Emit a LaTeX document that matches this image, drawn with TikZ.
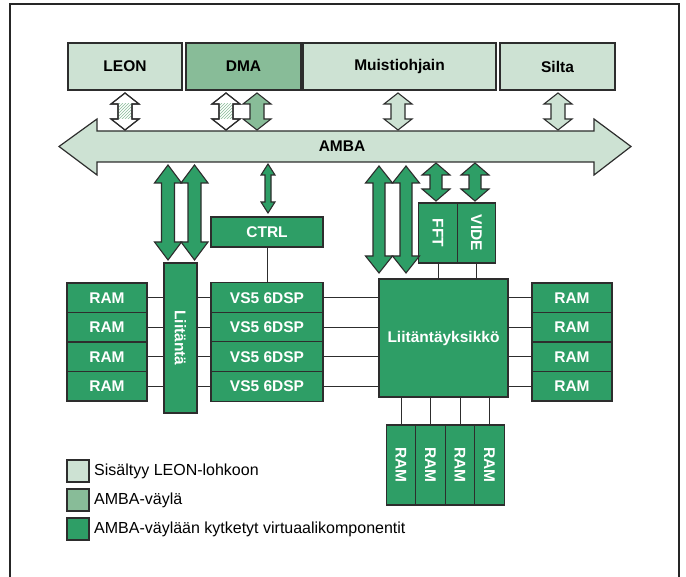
\documentclass[tikz,border=0pt]{standalone}
\usepackage{fontspec}
\setmainfont{Liberation Sans}
\usetikzlibrary{patterns}
\definecolor{leongreen}{RGB}{205,226,211}
\definecolor{ambagreen}{RGB}{136,188,152}
\definecolor{vcgreen}{RGB}{46,158,102}
\definecolor{edge}{RGB}{45,45,45}
% double headed bus arrow: style, x, top, bottom, half shaft, half head, head length
\newcommand\busarrow[7]{%
  \draw[draw=edge, line width=1.1pt, #1] (#2-#5,#3+#7) -- (#2-#6,#3+#7) -- (#2,#3) -- (#2+#6,#3+#7) -- (#2+#5,#3+#7)
    -- (#2+#5,#4-#7) -- (#2+#6,#4-#7) -- (#2,#4) -- (#2-#6,#4-#7) -- (#2-#5,#4-#7) -- cycle;}
\newcommand\hatcharrow[2]{%
  \busarrow{fill=white}{#1}{#2}{130}{7}{14}{11}
  \fill[pattern=north east lines, pattern color=ambagreen] (#1-6.4,#2+11) rectangle (#1+6.4,130-11);
  \busarrow{}{#1}{#2}{130}{7}{14}{11}}
\begin{document}
\begin{tikzpicture}[x=1pt, y=-1pt, line join=miter,
  blk/.style={draw=edge, line width=1.2pt, inner sep=0pt, outer sep=0pt,
    font=\bfseries\fontsize{15.5}{18}\selectfont},
  leonblk/.style={blk, fill=leongreen, text=black, minimum height=47},
  vcblk/.style={blk, fill=vcgreen, text=white},
  wire/.style={draw=edge, line width=1pt},
  keysq/.style={draw=edge, line width=1.2pt, minimum size=22, inner sep=0pt},
  keytxt/.style={anchor=west, inner sep=0pt, font=\fontsize{16}{19}\selectfont}]
\useasboundingbox (0,0) rectangle (686,577);
\draw[line width=2.6pt, draw=black!85] (10,577) -- (10,4) -- (679,4) -- (679,577);

% top blocks
\node[leonblk, minimum width=114] (leon) at (125,66.5) {LEON};
\node[leonblk, minimum width=115, fill=ambagreen] (dma) at (243.5,66.5) {DMA};
\node[leonblk, minimum width=193] (muisti) at (399.5,66.5) {Muistiohjain};
\node[leonblk, minimum width=115] (silta) at (557.5,66.5) {Silta};

% AMBA bus
\draw[draw=edge, fill=leongreen, line width=1.2pt] (59,146.5) -- (97,119) -- (97,131) -- (594,131) -- (594,119)
  -- (631,146.5) -- (594,175) -- (594,162) -- (97,162) -- (97,175) -- cycle;
\node[font=\bfseries\fontsize{15.5}{18}\selectfont] (amba) at (342,146.5) {AMBA};

\hatcharrow{125}{93}
\hatcharrow{226}{93}
\busarrow{fill=ambagreen}{257}{93}{130}{7}{14}{11}
\foreach \x in {398,558}
  \busarrow{fill=leongreen}{\x}{93}{130}{7}{14}{11};

% lower blocks
\node[vcblk, minimum width=112, minimum height=30] (ctrl) at (267,232) {CTRL};
\node[vcblk, minimum width=33, minimum height=150] (liit) at (180.5,338) {\rotatebox{-90}{Liitäntä}};
\node[vcblk, minimum width=129, minimum height=118] (ly) at (443.5,338) {Liitäntäyksikkö};
\node[vcblk, minimum width=38.5, minimum height=60] (fft) at (438,233) {\rotatebox{-90}{FFT}};
\node[vcblk, minimum width=38.5, minimum height=60] (vide) at (476.5,233) {\rotatebox{-90}{VIDE}};
\foreach \i in {0,...,3}
  {\node[vcblk, minimum width=80, minimum height=29.5] (raml\i) at (107,297.75+29.5*\i) {RAM};
   \node[vcblk, minimum width=112, minimum height=30] (vs\i) at (267,297.75+29.5*\i) {VS5 6DSP};
   \node[vcblk, minimum width=80, minimum height=29.5] (ramr\i) at (572,297.75+29.5*\i) {RAM};
   \node[vcblk, minimum width=29.5, minimum height=80] (ramb\i) at (401+29.5*\i,465) {\rotatebox{-90}{RAM}};
   \draw[wire] (raml\i.east) -- (raml\i.east -| liit.west);
   \draw[wire] (liit.east |- vs\i.west) -- (vs\i.west);
   \draw[wire] (vs\i.east) -- (vs\i.east -| ly.west);
   \draw[wire] (ly.east |- ramr\i.west) -- (ramr\i.west);
   \draw[wire] (ramb\i.north |- ly.south) -- (ramb\i.north);
  };
\draw[wire] (ctrl.south) -- (vs0.north -| ctrl.south);
\draw[wire] (fft.south) -- (fft.south |- ly.north);
\draw[wire] (vide.south) -- (vide.south |- ly.north);

% arrows below the bus
\foreach \x in {168,194.5}
  \busarrow{fill=vcgreen}{\x}{165}{260}{6.5}{13.5}{18};
\busarrow{fill=vcgreen}{268}{164}{213}{3}{7}{11}
\foreach \x in {379,406}
  \busarrow{fill=vcgreen}{\x}{166}{273}{6}{13.5}{17};
\foreach \x in {436,475}
  \busarrow{fill=vcgreen}{\x}{163}{201}{6}{14}{12};

% key
\node[keysq, fill=leongreen] (key1) at (78,471) {};
\node[keysq, fill=ambagreen] (key2) at (78,500) {};
\node[keysq, fill=vcgreen] (key3) at (78,529) {};
\node[keytxt] (txt1) at (94,471) {Sisältyy LEON-lohkoon};
\node[keytxt] (txt2) at (94,500) {AMBA-väylä};
\node[keytxt] (txt3) at (94,529) {AMBA-väylään kytketyt virtuaalikomponentit};
\end{tikzpicture}
\end{document}
